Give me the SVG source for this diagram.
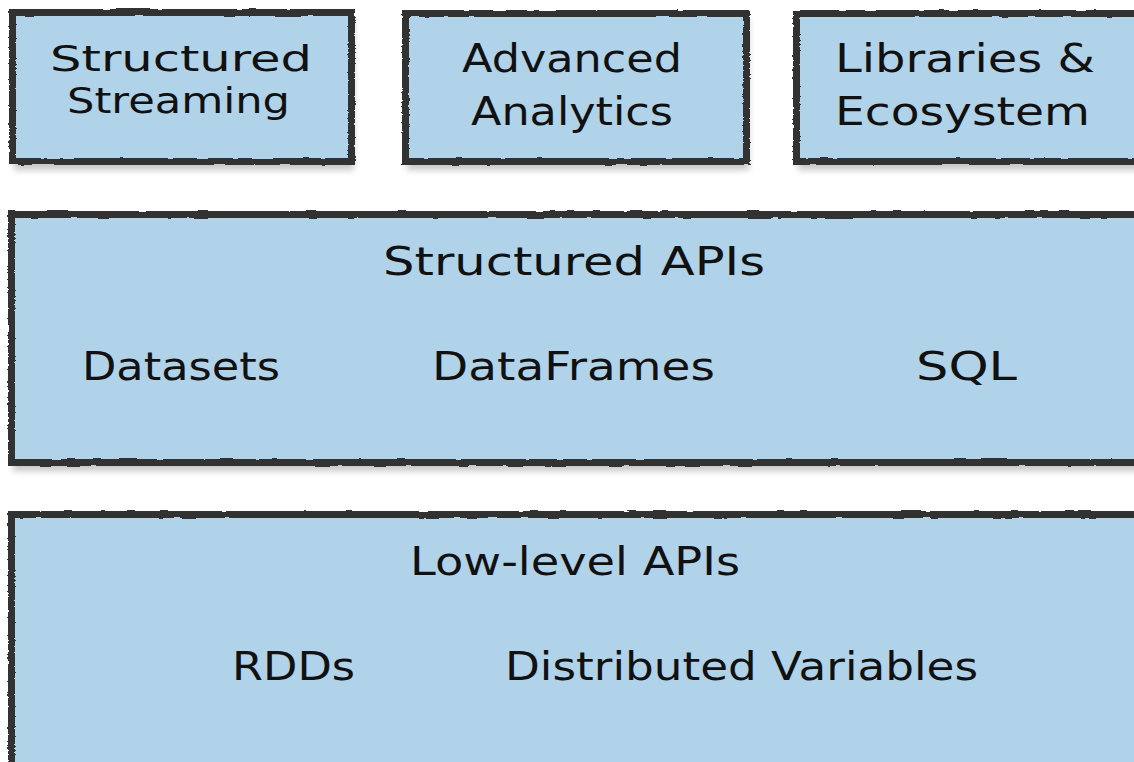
<svg xmlns="http://www.w3.org/2000/svg" width="1134" height="762" viewBox="0 0 1134 762">
  <defs>
    <filter id="rough" x="-5%" y="-5%" width="110%" height="115%">
      <feTurbulence type="fractalNoise" baseFrequency="0.06 0.5" numOctaves="2" seed="3" result="n"/>
      <feDisplacementMap in="SourceGraphic" in2="n" scale="3" xChannelSelector="R" yChannelSelector="G"/>
    </filter>
    <filter id="shadow" x="-5%" y="-5%" width="110%" height="120%">
      <feGaussianBlur stdDeviation="3"/>
    </filter>
  </defs>
  <style>
    .shadow { fill: #9a9a9a; opacity: 0.55; filter: url(#shadow); }
    .box { fill: #B0D3EA; stroke: #333333; stroke-width: 7; filter: url(#rough); }
    .lbl { font-family: "DejaVu Sans", "Liberation Sans", sans-serif; font-size: 39px; fill: #111111; text-anchor: start; }
    .sm { font-size: 35px; }
  </style>
  <rect x="0" y="0" width="1134" height="762" fill="#ffffff"/>
  <g id="connectors"></g>
  <g id="structured-streaming">
    <rect class="shadow" x="14" y="18" width="340" height="152"/>
    <rect class="box" x="12.5" y="12.5" width="339" height="149"/>
    <text class="lbl sm" x="50" y="71" textLength="262" lengthAdjust="spacingAndGlyphs">Structured</text>
    <text class="lbl sm" x="67" y="113" textLength="223" lengthAdjust="spacingAndGlyphs">Streaming</text>
  </g>
  <g id="advanced-analytics">
    <rect class="shadow" x="407" y="18" width="342" height="152"/>
    <rect class="box" x="405.5" y="13.5" width="341" height="148"/>
    <text class="lbl" x="462" y="72" textLength="220" lengthAdjust="spacingAndGlyphs">Advanced</text>
    <text class="lbl" x="471" y="125" textLength="202" lengthAdjust="spacingAndGlyphs">Analytics</text>
  </g>
  <g id="libraries-ecosystem">
    <rect class="shadow" x="798" y="18" width="350" height="152"/>
    <rect class="box" x="796.5" y="13.5" width="360" height="148"/>
    <text class="lbl" x="835" y="72" textLength="260" lengthAdjust="spacingAndGlyphs">Libraries &amp;</text>
    <text class="lbl" x="835" y="125" textLength="255" lengthAdjust="spacingAndGlyphs">Ecosystem</text>
  </g>
  <g id="structured-apis">
    <rect class="shadow" x="13" y="219" width="1140" height="252"/>
    <rect class="box" x="11.5" y="214.5" width="1150" height="248"/>
    <text class="lbl" x="383" y="275" textLength="382" lengthAdjust="spacingAndGlyphs">Structured APIs</text>
    <text class="lbl" x="82" y="380" textLength="198" lengthAdjust="spacingAndGlyphs">Datasets</text>
    <text class="lbl" x="432" y="380" textLength="283" lengthAdjust="spacingAndGlyphs">DataFrames</text>
    <text class="lbl" x="916" y="380" textLength="101" lengthAdjust="spacingAndGlyphs">SQL</text>
  </g>
  <g id="low-level-apis">
    <rect class="shadow" x="13" y="519" width="1140" height="260"/>
    <rect class="box" x="11.5" y="514.5" width="1150" height="270"/>
    <text class="lbl" x="410" y="575" textLength="330" lengthAdjust="spacingAndGlyphs">Low-level APIs</text>
    <text class="lbl" x="232" y="680" textLength="123" lengthAdjust="spacingAndGlyphs">RDDs</text>
    <text class="lbl" x="505" y="680" textLength="473" lengthAdjust="spacingAndGlyphs">Distributed Variables</text>
  </g>
</svg>
